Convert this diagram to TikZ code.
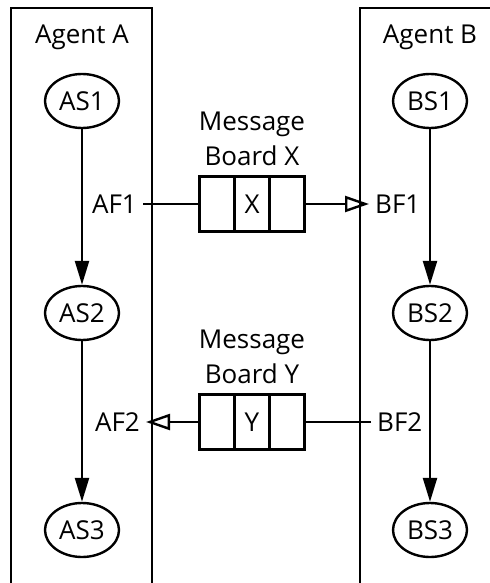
\documentclass[tikz,border=0pt]{standalone}
\usepackage{fontspec}
\setmainfont{Open Sans}
\usetikzlibrary{arrows.meta,positioning,shapes.geometric}

\begin{document}
\begin{tikzpicture}[
  x=0.5pt,y=-0.5pt,line width=1.2pt,
  font=\fontsize{13}{17.5}\selectfont,
  state/.style={draw,ellipse,minimum width=37pt,minimum height=27pt,inner sep=0.5pt},
  cell/.style={draw,minimum width=17.5pt,minimum height=27.5pt,inner sep=0pt,outer sep=0pt},
  lbl/.style={inner sep=2.5pt},
  title/.style={align=center,inner sep=0pt},
  flow/.style={-{Triangle[length=12pt,width=7pt]}},
  msg/.style={-{Triangle[open,length=12pt,width=8pt]}}
]
  \useasboundingbox[fill=white] (0,0) rectangle (490,583);
  \clip (0,0) rectangle (490,583);
  % agent frames
  \draw (11,600) |- (152,8) -- (152,600);
  \draw (360,600) |- (500,8);
  \node at (82,37) (agA) {Agent A};
  \node at (430,37) (agB) {Agent B};
  % states
  \node[state] at (82,101) (as1) {AS1};
  \node[state] at (82,313) (as2) {AS2};
  \node[state] at (82,530) (as3) {AS3};
  \node[state] at (430,101) (bs1) {BS1};
  \node[state] at (430,313) (bs2) {BS2};
  \node[state] at (430,530) (bs3) {BS3};
  \draw[flow] (as1) -- (as2); \draw[flow] (as2) -- (as3);
  \draw[flow] (bs1) -- (bs2); \draw[flow] (bs2) -- (bs3);
  % message boards
  \node[cell] at (252,204) (xm) {X};
  \node[cell,left=0pt of xm] (xl) {};
  \node[cell,right=0pt of xm] (xr) {};
  \node[title,above=5pt of xm] (bx) {Message\\Board X};
  \node[cell] at (252,422) (ym) {Y};
  \node[cell,left=0pt of ym] (yl) {};
  \node[cell,right=0pt of ym] (yr) {};
  \node[title,above=5pt of ym] (by) {Message\\Board Y};
  % ports
  \node[lbl,anchor=east] at (143,204) (af1) {AF1};
  \node[lbl,anchor=west] at (369,204) (bf1) {BF1};
  \node[lbl,anchor=east] at (146,422) (af2) {AF2};
  \node[lbl,anchor=west] at (371,422) (bf2) {BF2};
  \draw (af1.east) -- (xl.west); \draw[msg] (xr.east) -- (bf1.west);
  \draw[msg] (yl.west) -- (af2.east); \draw (bf2.west) -- (yr.east);
\end{tikzpicture}
\end{document}
